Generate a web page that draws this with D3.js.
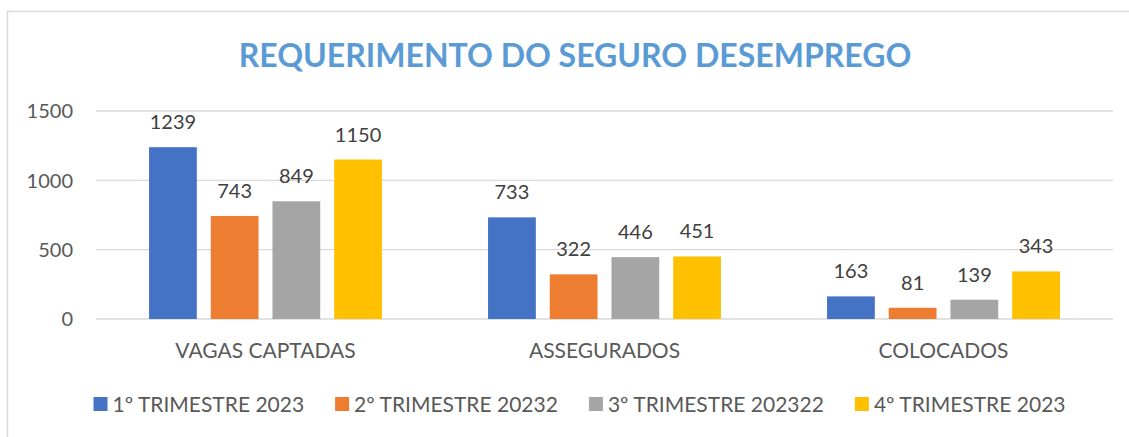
<!DOCTYPE html>
<head>
<style>
body { margin: 0; background: #fff; }
text { font-family: Lato, "Open Sans", sans-serif; }
.grid line { stroke: #d9d9d9; stroke-width: 1.3px; }
.tick-label { fill: #595959; font-size: 20px; }
.cat-label, .legend text { fill: #595959; font-size: 21px; }
.value-label { fill: #404040; font-size: 20px; }
</style>
<script src="https://d3js.org/d3.v7.min.js"></script>
</head>
<body>
<svg width="1129" height="437"></svg>
<script>
var categories = ["VAGAS CAPTADAS", "ASSEGURADOS", "COLOCADOS"];
var seriesNames = ["1º TRIMESTRE 2023", "2º TRIMESTRE 20232", "3º TRIMESTRE 202322", "4º TRIMESTRE 2023"];
var q1 = [1239, 733, 163];
var q2 = [743, 322, 81];
var q3 = [849, 446, 139];
var q4 = [1150, 451, 343];
var yTicks = [0, 500, 1000, 1500];
var colors = ["#4472c4", "#ed7d31", "#a5a5a5", "#ffc000"];

var series = [q1, q2, q3, q4];

var svg = d3.select("svg"),
    margin = {top: 111, right: 16, bottom: 118, left: 96},
    width = +svg.attr("width") - margin.left - margin.right,
    height = +svg.attr("height") - margin.top - margin.bottom;

// chart frame, cut off at right and bottom like the screenshot
svg.append("rect")
    .attr("x", 7.5).attr("y", 11.5)
    .attr("width", 1200).attr("height", 500)
    .attr("fill", "none")
    .attr("stroke", "#d9d9d9")
    .attr("stroke-width", 1.5);

svg.append("text")
    .attr("x", 575)
    .attr("y", 67)
    .attr("text-anchor", "middle")
    .attr("fill", "#5b9bd5")
    .attr("font-weight", "bold")
    .attr("font-size", 32)
    .text("REQUERIMENTO DO SEGURO DESEMPREGO");

var g = svg.append("g").attr("transform", "translate(" + margin.left + "," + margin.top + ")");

var x0 = d3.scaleBand()
    .domain(categories)
    .range([0, width])
    .paddingInner(0.313)
    .paddingOuter(0.1565);

var x1 = d3.scaleBand()
    .domain(d3.range(seriesNames.length))
    .range([0, x0.bandwidth()])
    .paddingInner(0.226);

var y = d3.scaleLinear()
    .domain([0, 1500])
    .range([height, 0]);

g.append("g")
    .attr("class", "grid")
  .selectAll("line")
  .data(yTicks)
  .enter().append("line")
    .attr("x1", 0)
    .attr("x2", width)
    .attr("y1", function(d) { return y(d); })
    .attr("y2", function(d) { return y(d); });

g.append("g")
  .selectAll("text")
  .data(yTicks)
  .enter().append("text")
    .attr("class", "tick-label")
    .attr("x", -23)
    .attr("y", function(d) { return y(d); })
    .attr("dy", "0.36em")
    .attr("text-anchor", "end")
    .text(function(d) { return d; });

var groups = g.append("g")
  .selectAll("g")
  .data(categories)
  .enter().append("g")
    .attr("transform", function(d) { return "translate(" + x0(d) + ",0)"; });

var cells = groups.selectAll("g")
  .data(function(d, ci) {
    return series.map(function(s, si) { return {si: si, value: s[ci]}; });
  })
  .enter().append("g");

cells.append("rect")
    .attr("x", function(d) { return x1(d.si); })
    .attr("y", function(d) { return y(d.value); })
    .attr("width", x1.bandwidth())
    .attr("height", function(d) { return height - y(d.value); })
    .attr("fill", function(d) { return colors[d.si]; });

cells.append("text")
    .attr("class", "value-label")
    .attr("x", function(d) { return x1(d.si) + x1.bandwidth() / 2; })
    .attr("y", function(d) { return y(d.value) - 18; })
    .attr("text-anchor", "middle")
    .text(function(d) { return d.value; });

g.append("g")
  .selectAll("text")
  .data(categories)
  .enter().append("text")
    .attr("class", "cat-label")
    .attr("x", function(d) { return x0(d) + x0.bandwidth() / 2; })
    .attr("y", height + 39)
    .attr("text-anchor", "middle")
    .text(function(d) { return d; });

// legend, laid out left to right then centred
var legend = svg.append("g").attr("class", "legend");
var items = legend.selectAll("g")
  .data(seriesNames)
  .enter().append("g");

items.append("rect")
    .attr("y", 397)
    .attr("width", 14)
    .attr("height", 14)
    .attr("fill", function(d, i) { return colors[i]; });

items.append("text")
    .attr("x", 19)
    .attr("y", 412)
    .text(function(d) { return d; });

var gap = 31;
var xpos = 0;
items.each(function() {
  var w = d3.select(this).select("text").node().getComputedTextLength();
  d3.select(this).attr("transform", "translate(" + xpos + ",0)");
  xpos += 19 + w + gap;
});
var total = xpos - gap;
legend.attr("transform", "translate(" + (579.5 - total / 2) + ",0)");
</script>
</body>
